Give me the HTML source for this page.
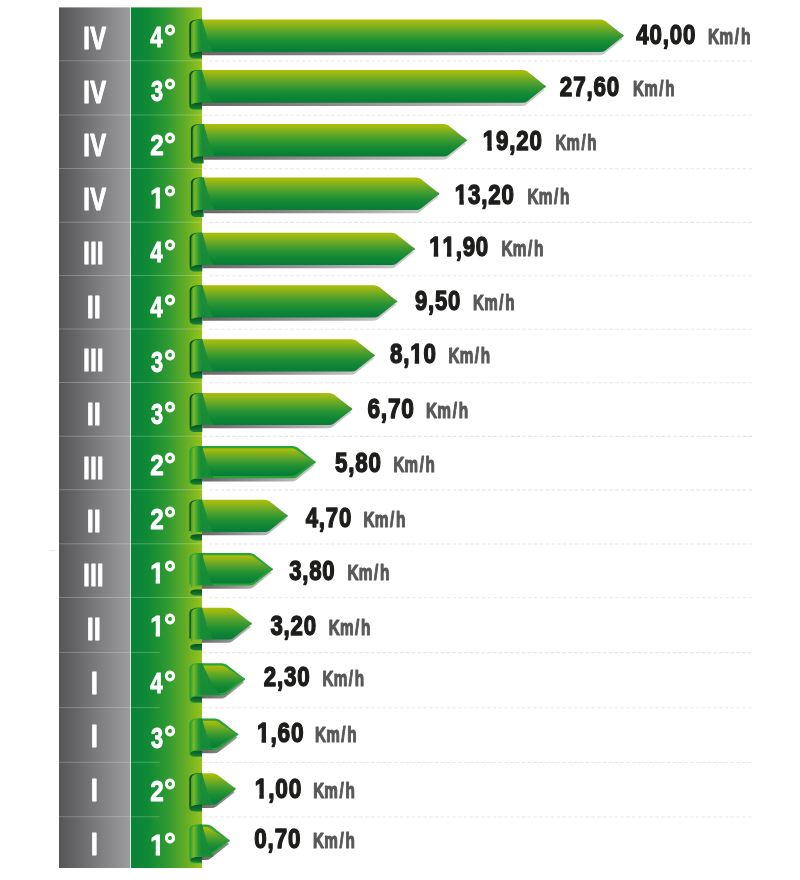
<!DOCTYPE html>
<html><head><meta charset="utf-8"><title>Km/h</title>
<style>
html,body{margin:0;padding:0;background:#fff;}
body{width:800px;height:880px;overflow:hidden;}
svg{display:block;}
text{font-family:"Liberation Sans",sans-serif;font-weight:bold;font-kerning:none;stroke-linejoin:round;vector-effect:non-scaling-stroke;}
.g{fill:#fff;stroke:#fff;}
.v{fill:#1d1d1b;stroke:#1d1d1b;}
.u{fill:#58585a;stroke:#58585a;}
</style></head><body>
<svg width="800" height="880" viewBox="0 0 800 880">
<defs>
<linearGradient id="gray" x1="0" y1="0" x2="1" y2="0"><stop offset="0" stop-color="#555558"/><stop offset="1" stop-color="#9d9d9f"/></linearGradient>
<linearGradient id="green" x1="0" y1="0" x2="1" y2="0"><stop offset="0" stop-color="#088437"/><stop offset="0.25" stop-color="#108a36"/><stop offset="0.5" stop-color="#2d9932"/><stop offset="0.75" stop-color="#60ab27"/><stop offset="1" stop-color="#97c21b"/></linearGradient>
<linearGradient id="greenU" gradientUnits="userSpaceOnUse" x1="131" y1="0" x2="202" y2="0"><stop offset="0" stop-color="#088437"/><stop offset="0.25" stop-color="#108a36"/><stop offset="0.5" stop-color="#2d9932"/><stop offset="0.75" stop-color="#60ab27"/><stop offset="1" stop-color="#97c21b"/></linearGradient>
<linearGradient id="bar" x1="0" y1="0" x2="0" y2="1"><stop offset="0" stop-color="#abbd08"/><stop offset="0.08" stop-color="#a0ba10"/><stop offset="0.3" stop-color="#68a826"/><stop offset="0.5" stop-color="#3a9a31"/><stop offset="0.65" stop-color="#1f8f34"/><stop offset="0.8" stop-color="#108636"/><stop offset="1" stop-color="#067d36"/></linearGradient>
<linearGradient id="curl" x1="0" y1="0" x2="1" y2="0"><stop offset="0" stop-color="#3d9a2b"/><stop offset="0.22" stop-color="#7ab827"/><stop offset="0.42" stop-color="#5aad2b"/><stop offset="0.7" stop-color="#249835"/><stop offset="1" stop-color="#14883a"/></linearGradient>
</defs>
<rect width="800" height="880" fill="#fff"/>
<rect x="59" y="7.4" width="71.3" height="860.6" fill="url(#gray)"/>
<rect x="131" y="7.4" width="71" height="860.6" fill="url(#green)"/>
<rect x="49.7" y="550" width="5.4" height="1.2" fill="#e6e6e6"/>

<linearGradient id="sh0" gradientUnits="userSpaceOnUse" x1="202" y1="0" x2="623.8" y2="0"><stop offset="0" stop-color="#6b6668"/><stop offset="0.5" stop-color="#979596"/><stop offset="1" stop-color="#d2ced0"/></linearGradient>
<path d="M202 50.0 L602.3 50.0 L620.4 37.050000000000004 Q624.4 38.95 620.4 40.85 L604.3 53.7 Q602.3 55.2 599.3 55.2 L202 55.2 Z" fill="url(#sh0)"/>
<path d="M202 19.5 L600.3 19.5 Q603.3 19.5 605.3 21.0 L621.4 33.85 Q626.1999999999999 35.75 621.4 37.65 L605.3 50.5 Q603.3 52.0 600.3 52.0 L202 52.0 Z" fill="url(#bar)"/>
<path d="M202 19.5 C204.99 28.5 207.52 43.0 213.5 52.0 L202 52.0 Z" fill="#178c37" fill-opacity="0.9"/>
<path d="M202 19.5 L199.3 19.5 C193.3 19.5 189.3 21.0 189.3 25.0 L189.3 54.9 Q189.3 58.5 196.3 58.5 L202 58.5 Z" fill="url(#dk0)"/>
<linearGradient id="dk0" gradientUnits="userSpaceOnUse" x1="0" y1="51.5" x2="0" y2="58.5"><stop offset="0" stop-color="#07501f"/><stop offset="1" stop-color="#178636"/></linearGradient>
<path d="M202 19.5 L199.8 19.5 C194.8 19.7 191.0 21.5 191.0 26.0 L190.9 53.7 Q194.3 51.7 202 51.7 Z" fill="url(#curl)"/>
<text class="g" transform="translate(83.26,48.90) scale(0.7816,1)" font-size="30.45" stroke-width="0.9" letter-spacing="0.6">IV</text>
<text class="g" transform="translate(150.31,47.35) scale(0.7401,1)" font-size="30.38" stroke-width="0.8">4</text>
<text class="g" transform="translate(164.08,47.35) scale(0.9307,1)" font-size="32.27" stroke-width="0.8">°</text>
<text class="v" transform="translate(636.32,43.95) scale(0.8064,1)" font-size="27.62" stroke-width="1.3" letter-spacing="1.0">40,00</text>
<text class="u" transform="translate(707.96,43.90) scale(0.7348,1)" font-size="21.22" stroke-width="1.0" dx="0 0.2 2.2 2.4">Km/h</text>
<line x1="59" y1="60.8" x2="202" y2="60.8" stroke="#fff" stroke-opacity="0.24" stroke-width="1"/>
<line x1="209.2" y1="61.0" x2="752.6" y2="61.0" stroke="#e7e7e7" stroke-width="1.1" stroke-dasharray="3.5 2.3"/>
<linearGradient id="sh1" gradientUnits="userSpaceOnUse" x1="202" y1="0" x2="546" y2="0"><stop offset="0" stop-color="#6b6668"/><stop offset="0.5" stop-color="#979596"/><stop offset="1" stop-color="#d2ced0"/></linearGradient>
<path d="M202 100.8 L524.5 100.8 L542.6 87.7 Q546.6 89.60000000000001 542.6 91.50000000000001 L526.5 104.5 Q524.5 106.0 521.5 106.0 L202 106.0 Z" fill="url(#sh1)"/>
<path d="M202 70.0 L522.5 70.0 Q525.5 70.0 527.5 71.5 L543.6 84.5 Q548.4 86.4 543.6 88.30000000000001 L527.5 101.3 Q525.5 102.8 522.5 102.8 L202 102.8 Z" fill="url(#bar)"/>
<path d="M202 70.0 C204.99 79.0 207.52 93.8 213.5 102.8 L202 102.8 Z" fill="#178c37" fill-opacity="0.9"/>
<path d="M202 70.0 L199.3 70.0 C193.3 70.0 189.3 71.5 189.3 75.5 L189.3 105.9 Q189.3 109.5 196.3 109.5 L202 109.5 Z" fill="url(#dk1)"/>
<linearGradient id="dk1" gradientUnits="userSpaceOnUse" x1="0" y1="102.5" x2="0" y2="109.5"><stop offset="0" stop-color="#07501f"/><stop offset="1" stop-color="#178636"/></linearGradient>
<path d="M202 70.0 L199.8 70.0 C194.8 70.2 191.0 72.0 191.0 76.5 L190.9 104.5 Q194.3 102.5 202 102.5 Z" fill="url(#curl)"/>
<text class="g" transform="translate(83.26,102.63) scale(0.7816,1)" font-size="30.45" stroke-width="0.9" letter-spacing="0.6">IV</text>
<text class="g" transform="translate(150.90,101.08) scale(0.7153,1)" font-size="30.38" stroke-width="0.8">3</text>
<text class="g" transform="translate(164.08,101.08) scale(0.9307,1)" font-size="32.27" stroke-width="0.8">°</text>
<text class="v" transform="translate(559.86,95.55) scale(0.8127,1)" font-size="27.62" stroke-width="1.3" letter-spacing="1.0">27,60</text>
<text class="u" transform="translate(633.08,95.50) scale(0.7149,1)" font-size="21.22" stroke-width="1.0" dx="0 0.2 2.2 2.4">Km/h</text>
<line x1="59" y1="115.0" x2="202" y2="115.0" stroke="#fff" stroke-opacity="0.24" stroke-width="1"/>
<line x1="203.4" y1="115.2" x2="752.6" y2="115.2" stroke="#e7e7e7" stroke-width="1.1" stroke-dasharray="3.5 2.3"/>
<linearGradient id="sh2" gradientUnits="userSpaceOnUse" x1="203.6" y1="0" x2="467" y2="0"><stop offset="0" stop-color="#6b6668"/><stop offset="0.5" stop-color="#979596"/><stop offset="1" stop-color="#d2ced0"/></linearGradient>
<path d="M203.6 154.5 L445.5 154.5 L463.6 141.54999999999998 Q467.6 143.45 463.6 145.35 L447.5 158.2 Q445.5 159.7 442.5 159.7 L203.6 159.7 Z" fill="url(#sh2)"/>
<path d="M203.6 124.0 L443.5 124.0 Q446.5 124.0 448.5 125.5 L464.6 138.35 Q469.4 140.25 464.6 142.15 L448.5 155.0 Q446.5 156.5 443.5 156.5 L203.6 156.5 Z" fill="url(#bar)"/>
<path d="M203.6 124.0 C206.59 133.0 209.12 147.5 215.1 156.5 L203.6 156.5 Z" fill="#178c37" fill-opacity="0.9"/>
<path d="M203.6 124.0 L200.9 124.0 C194.9 124.0 190.9 125.5 190.9 129.5 L190.9 159.9 Q190.9 163.5 197.9 163.5 L203.6 163.5 Z" fill="url(#dk2)"/>
<linearGradient id="dk2" gradientUnits="userSpaceOnUse" x1="0" y1="156.5" x2="0" y2="163.5"><stop offset="0" stop-color="#07501f"/><stop offset="1" stop-color="#178636"/></linearGradient>
<path d="M203.6 124.0 L201.4 124.0 C196.4 124.2 192.6 126.0 192.6 130.5 L192.5 158.2 Q195.9 156.2 203.6 156.2 Z" fill="url(#curl)"/>
<text class="g" transform="translate(83.26,156.36) scale(0.7816,1)" font-size="30.45" stroke-width="0.9" letter-spacing="0.6">IV</text>
<text class="g" transform="translate(150.15,154.61) scale(0.8007,1)" font-size="30.38" stroke-width="0.8">2</text>
<text class="g" transform="translate(164.08,154.61) scale(0.9307,1)" font-size="32.27" stroke-width="0.8">°</text>
<text class="v" transform="translate(482.85,149.95) scale(0.8074,1)" font-size="27.62" stroke-width="1.3" letter-spacing="1.0">19,20</text><rect x="482.40" y="145.48" width="4.95" height="6.42" fill="#fff"/><rect x="491.81" y="145.48" width="3.97" height="6.42" fill="#fff"/>
<text class="u" transform="translate(555.49,149.90) scale(0.7076,1)" font-size="21.22" stroke-width="1.0" dx="0 0.2 2.2 2.4">Km/h</text>
<line x1="59" y1="168.5" x2="202" y2="168.5" stroke="#fff" stroke-opacity="0.24" stroke-width="1"/>
<line x1="203.4" y1="168.7" x2="752.6" y2="168.7" stroke="#e7e7e7" stroke-width="1.1" stroke-dasharray="3.5 2.3"/>
<linearGradient id="sh3" gradientUnits="userSpaceOnUse" x1="203.6" y1="0" x2="439.4" y2="0"><stop offset="0" stop-color="#6b6668"/><stop offset="0.5" stop-color="#979596"/><stop offset="1" stop-color="#d2ced0"/></linearGradient>
<path d="M203.6 208.0 L417.9 208.0 L436.0 195.04999999999998 Q440.0 196.95 436.0 198.85 L419.9 211.7 Q417.9 213.2 414.9 213.2 L203.6 213.2 Z" fill="url(#sh3)"/>
<path d="M203.6 177.5 L415.9 177.5 Q418.9 177.5 420.9 179.0 L437.0 191.85 Q441.79999999999995 193.75 437.0 195.65 L420.9 208.5 Q418.9 210.0 415.9 210.0 L203.6 210.0 Z" fill="url(#bar)"/>
<path d="M203.6 177.5 C206.59 186.5 209.12 201.0 215.1 210.0 L203.6 210.0 Z" fill="#178c37" fill-opacity="0.9"/>
<path d="M203.6 177.5 L200.9 177.5 C194.9 177.5 190.9 179.0 190.9 183.0 L190.9 213.4 Q190.9 217.0 197.9 217.0 L203.6 217.0 Z" fill="url(#dk3)"/>
<linearGradient id="dk3" gradientUnits="userSpaceOnUse" x1="0" y1="210.0" x2="0" y2="217.0"><stop offset="0" stop-color="#07501f"/><stop offset="1" stop-color="#178636"/></linearGradient>
<path d="M203.6 177.5 L201.4 177.5 C196.4 177.7 192.6 179.5 192.6 184.0 L192.5 211.7 Q195.9 209.7 203.6 209.7 Z" fill="url(#curl)"/>
<text class="g" transform="translate(83.26,210.09) scale(0.7816,1)" font-size="30.45" stroke-width="0.9" letter-spacing="0.6">IV</text>
<text class="g" transform="translate(150.17,207.94) scale(0.8365,1)" font-size="30.38" stroke-width="0.8">1</text><rect x="150.17" y="203.44" width="5.48" height="6.20" fill="url(#greenU)"/><rect x="160.04" y="203.44" width="4.46" height="6.20" fill="url(#greenU)"/>
<text class="g" transform="translate(164.08,207.94) scale(0.9307,1)" font-size="32.27" stroke-width="0.8">°</text>
<text class="v" transform="translate(454.85,203.55) scale(0.8074,1)" font-size="27.62" stroke-width="1.3" letter-spacing="1.0">13,20</text><rect x="454.40" y="199.08" width="4.95" height="6.42" fill="#fff"/><rect x="463.81" y="199.08" width="3.97" height="6.42" fill="#fff"/>
<text class="u" transform="translate(527.47,203.50) scale(0.7258,1)" font-size="21.22" stroke-width="1.0" dx="0 0.2 2.2 2.4">Km/h</text>
<line x1="59" y1="222.2" x2="202" y2="222.2" stroke="#fff" stroke-opacity="0.24" stroke-width="1"/>
<line x1="209.2" y1="222.39999999999998" x2="752.6" y2="222.39999999999998" stroke="#e7e7e7" stroke-width="1.1" stroke-dasharray="3.5 2.3"/>
<linearGradient id="sh4" gradientUnits="userSpaceOnUse" x1="202.3" y1="0" x2="415" y2="0"><stop offset="0" stop-color="#6b6668"/><stop offset="0.5" stop-color="#979596"/><stop offset="1" stop-color="#d2ced0"/></linearGradient>
<path d="M202.3 263.0 L393.5 263.0 L411.6 250.2 Q415.6 252.1 411.6 254.0 L395.5 266.7 Q393.5 268.2 390.5 268.2 L202.3 268.2 Z" fill="url(#sh4)"/>
<path d="M202.3 232.8 L391.5 232.8 Q394.5 232.8 396.5 234.3 L412.6 247.0 Q417.4 248.9 412.6 250.8 L396.5 263.5 Q394.5 265.0 391.5 265.0 L202.3 265.0 Z" fill="url(#bar)"/>
<path d="M202.3 232.8 C205.29000000000002 241.8 207.82000000000002 256.0 213.8 265.0 L202.3 265.0 Z" fill="#178c37" fill-opacity="0.9"/>
<path d="M202.3 232.8 L199.60000000000002 232.8 C193.60000000000002 232.8 189.60000000000002 234.3 189.60000000000002 238.3 L189.60000000000002 267.9 Q189.60000000000002 271.5 196.60000000000002 271.5 L202.3 271.5 Z" fill="url(#dk4)"/>
<linearGradient id="dk4" gradientUnits="userSpaceOnUse" x1="0" y1="264.5" x2="0" y2="271.5"><stop offset="0" stop-color="#07501f"/><stop offset="1" stop-color="#178636"/></linearGradient>
<path d="M202.3 232.8 L200.10000000000002 232.8 C195.10000000000002 233.0 191.3 234.8 191.3 239.3 L191.20000000000002 266.7 Q194.60000000000002 264.7 202.3 264.7 Z" fill="url(#curl)"/>
<text class="g" transform="translate(83.29,263.82) scale(0.7639,1)" font-size="30.45" stroke-width="0.9" letter-spacing="0.6">III</text>
<text class="g" transform="translate(150.31,262.37) scale(0.7401,1)" font-size="30.38" stroke-width="0.8">4</text>
<text class="g" transform="translate(164.08,262.37) scale(0.9307,1)" font-size="32.27" stroke-width="0.8">°</text>
<text class="v" transform="translate(429.25,256.35) scale(0.8074,1)" font-size="27.62" stroke-width="1.3" letter-spacing="1.0">11,90</text><rect x="428.80" y="251.88" width="4.95" height="6.42" fill="#fff"/><rect x="438.21" y="251.88" width="3.97" height="6.42" fill="#fff"/><rect x="442.01" y="251.88" width="4.95" height="6.42" fill="#fff"/><rect x="451.42" y="251.88" width="3.97" height="6.42" fill="#fff"/>
<text class="u" transform="translate(501.47,256.30) scale(0.7258,1)" font-size="21.22" stroke-width="1.0" dx="0 0.2 2.2 2.4">Km/h</text>
<line x1="59" y1="275.5" x2="202" y2="275.5" stroke="#fff" stroke-opacity="0.24" stroke-width="1"/>
<line x1="209.2" y1="275.7" x2="752.6" y2="275.7" stroke="#e7e7e7" stroke-width="1.1" stroke-dasharray="3.5 2.3"/>
<linearGradient id="sh5" gradientUnits="userSpaceOnUse" x1="202.3" y1="0" x2="397.4" y2="0"><stop offset="0" stop-color="#6b6668"/><stop offset="0.5" stop-color="#979596"/><stop offset="1" stop-color="#d2ced0"/></linearGradient>
<path d="M202.3 315.5 L375.9 315.5 L394.0 302.65000000000003 Q398.0 304.55 394.0 306.45 L377.9 319.2 Q375.9 320.7 372.9 320.7 L202.3 320.7 Z" fill="url(#sh5)"/>
<path d="M202.3 285.2 L373.9 285.2 Q376.9 285.2 378.9 286.7 L395.0 299.45000000000005 Q399.79999999999995 301.35 395.0 303.25 L378.9 316.0 Q376.9 317.5 373.9 317.5 L202.3 317.5 Z" fill="url(#bar)"/>
<path d="M202.3 285.2 C205.29000000000002 294.2 207.82000000000002 308.5 213.8 317.5 L202.3 317.5 Z" fill="#178c37" fill-opacity="0.9"/>
<path d="M202.3 285.2 L199.60000000000002 285.2 C193.60000000000002 285.2 189.60000000000002 286.7 189.60000000000002 290.7 L189.60000000000002 320.9 Q189.60000000000002 324.5 196.60000000000002 324.5 L202.3 324.5 Z" fill="url(#dk5)"/>
<linearGradient id="dk5" gradientUnits="userSpaceOnUse" x1="0" y1="317.5" x2="0" y2="324.5"><stop offset="0" stop-color="#07501f"/><stop offset="1" stop-color="#178636"/></linearGradient>
<path d="M202.3 285.2 L200.10000000000002 285.2 C195.10000000000002 285.4 191.3 287.2 191.3 291.7 L191.20000000000002 319.2 Q194.60000000000002 317.2 202.3 317.2 Z" fill="url(#curl)"/>
<text class="g" transform="translate(86.94,317.55) scale(0.7881,1)" font-size="30.45" stroke-width="0.9" letter-spacing="0.6">II</text>
<text class="g" transform="translate(150.31,317.30) scale(0.7401,1)" font-size="30.38" stroke-width="0.8">4</text>
<text class="g" transform="translate(164.08,317.30) scale(0.9307,1)" font-size="32.27" stroke-width="0.8">°</text>
<text class="v" transform="translate(414.88,309.55) scale(0.7997,1)" font-size="27.62" stroke-width="1.3" letter-spacing="1.0">9,50</text>
<text class="u" transform="translate(473.08,309.50) scale(0.7149,1)" font-size="21.22" stroke-width="1.0" dx="0 0.2 2.2 2.4">Km/h</text>
<line x1="59" y1="329.0" x2="202" y2="329.0" stroke="#fff" stroke-opacity="0.24" stroke-width="1"/>
<line x1="209.2" y1="329.2" x2="752.6" y2="329.2" stroke="#e7e7e7" stroke-width="1.1" stroke-dasharray="3.5 2.3"/>
<linearGradient id="sh6" gradientUnits="userSpaceOnUse" x1="202.3" y1="0" x2="375" y2="0"><stop offset="0" stop-color="#6b6668"/><stop offset="0.5" stop-color="#979596"/><stop offset="1" stop-color="#d2ced0"/></linearGradient>
<path d="M202.3 369.5 L353.5 369.5 L371.6 356.65000000000003 Q375.6 358.55 371.6 360.45 L355.5 373.2 Q353.5 374.7 350.5 374.7 L202.3 374.7 Z" fill="url(#sh6)"/>
<path d="M202.3 339.2 L351.5 339.2 Q354.5 339.2 356.5 340.7 L372.6 353.45000000000005 Q377.4 355.35 372.6 357.25 L356.5 370.0 Q354.5 371.5 351.5 371.5 L202.3 371.5 Z" fill="url(#bar)"/>
<path d="M202.3 339.2 C205.29000000000002 348.2 207.82000000000002 362.5 213.8 371.5 L202.3 371.5 Z" fill="#178c37" fill-opacity="0.9"/>
<path d="M202.3 339.2 L199.60000000000002 339.2 C193.60000000000002 339.2 189.60000000000002 340.7 189.60000000000002 344.7 L189.60000000000002 374.9 Q189.60000000000002 378.5 196.60000000000002 378.5 L202.3 378.5 Z" fill="url(#dk6)"/>
<linearGradient id="dk6" gradientUnits="userSpaceOnUse" x1="0" y1="371.5" x2="0" y2="378.5"><stop offset="0" stop-color="#07501f"/><stop offset="1" stop-color="#178636"/></linearGradient>
<path d="M202.3 339.2 L200.10000000000002 339.2 C195.10000000000002 339.4 191.3 341.2 191.3 345.7 L191.20000000000002 373.2 Q194.60000000000002 371.2 202.3 371.2 Z" fill="url(#curl)"/>
<text class="g" transform="translate(83.29,371.28) scale(0.7639,1)" font-size="30.45" stroke-width="0.9" letter-spacing="0.6">III</text>
<text class="g" transform="translate(150.90,371.83) scale(0.7153,1)" font-size="30.38" stroke-width="0.8">3</text>
<text class="g" transform="translate(164.08,371.83) scale(0.9307,1)" font-size="32.27" stroke-width="0.8">°</text>
<text class="v" transform="translate(389.93,362.95) scale(0.8095,1)" font-size="27.62" stroke-width="1.3" letter-spacing="1.0">8,10</text><rect x="409.76" y="358.48" width="4.96" height="6.42" fill="#fff"/><rect x="419.18" y="358.48" width="3.98" height="6.42" fill="#fff"/>
<text class="u" transform="translate(448.48,362.90) scale(0.7185,1)" font-size="21.22" stroke-width="1.0" dx="0 0.2 2.2 2.4">Km/h</text>
<line x1="59" y1="382.5" x2="202" y2="382.5" stroke="#fff" stroke-opacity="0.24" stroke-width="1"/>
<line x1="209.2" y1="382.7" x2="752.6" y2="382.7" stroke="#e7e7e7" stroke-width="1.1" stroke-dasharray="3.5 2.3"/>
<linearGradient id="sh7" gradientUnits="userSpaceOnUse" x1="202.3" y1="0" x2="352.4" y2="0"><stop offset="0" stop-color="#6b6668"/><stop offset="0.5" stop-color="#979596"/><stop offset="1" stop-color="#d2ced0"/></linearGradient>
<path d="M202.3 423.0 L330.9 423.0 L349.0 410.3 Q353.0 412.2 349.0 414.09999999999997 L332.9 426.7 Q330.9 428.2 327.9 428.2 L202.3 428.2 Z" fill="url(#sh7)"/>
<path d="M202.3 393.0 L328.9 393.0 Q331.9 393.0 333.9 394.5 L350.0 407.1 Q354.79999999999995 409.0 350.0 410.9 L333.9 423.5 Q331.9 425.0 328.9 425.0 L202.3 425.0 Z" fill="url(#bar)"/>
<path d="M202.3 393.0 C205.29000000000002 402.0 207.82000000000002 416.0 213.8 425.0 L202.3 425.0 Z" fill="#178c37" fill-opacity="0.9"/>
<path d="M202.3 393.0 L199.60000000000002 393.0 C193.60000000000002 393.0 189.60000000000002 394.5 189.60000000000002 398.5 L189.60000000000002 428.4 Q189.60000000000002 432.0 196.60000000000002 432.0 L202.3 432.0 Z" fill="url(#dk7)"/>
<linearGradient id="dk7" gradientUnits="userSpaceOnUse" x1="0" y1="425.0" x2="0" y2="432.0"><stop offset="0" stop-color="#07501f"/><stop offset="1" stop-color="#178636"/></linearGradient>
<path d="M202.3 393.0 L200.10000000000002 393.0 C195.10000000000002 393.2 191.3 395.0 191.3 399.5 L191.20000000000002 426.7 Q194.60000000000002 424.7 202.3 424.7 Z" fill="url(#curl)"/>
<text class="g" transform="translate(86.94,425.01) scale(0.7881,1)" font-size="30.45" stroke-width="0.9" letter-spacing="0.6">II</text>
<text class="g" transform="translate(150.90,423.86) scale(0.7153,1)" font-size="30.38" stroke-width="0.8">3</text>
<text class="g" transform="translate(164.08,423.86) scale(0.9307,1)" font-size="32.27" stroke-width="0.8">°</text>
<text class="v" transform="translate(367.41,417.55) scale(0.8189,1)" font-size="27.62" stroke-width="1.3" letter-spacing="1.0">6,70</text>
<text class="u" transform="translate(426.07,417.50) scale(0.7258,1)" font-size="21.22" stroke-width="1.0" dx="0 0.2 2.2 2.4">Km/h</text>
<line x1="59" y1="436.2" x2="202" y2="436.2" stroke="#fff" stroke-opacity="0.24" stroke-width="1"/>
<line x1="203.4" y1="436.4" x2="752.6" y2="436.4" stroke="#e7e7e7" stroke-width="1.1" stroke-dasharray="3.5 2.3"/>
<linearGradient id="sh8" gradientUnits="userSpaceOnUse" x1="202" y1="0" x2="316" y2="0"><stop offset="0" stop-color="#6b6668"/><stop offset="0.5" stop-color="#979596"/><stop offset="1" stop-color="#d2ced0"/></linearGradient>
<path d="M202 476.2 L294.5 476.2 L312.6 463.40000000000003 Q316.6 465.3 312.6 467.2 L296.5 479.9 Q294.5 481.4 291.5 481.4 L202 481.4 Z" fill="url(#sh8)"/>
<path d="M202 446.0 L292.5 446.0 Q295.5 446.0 297.5 447.5 L313.6 460.20000000000005 Q318.4 462.1 313.6 464.0 L297.5 476.7 Q295.5 478.2 292.5 478.2 L202 478.2 Z" fill="#27a338"/>
<path d="M202 448.3 L291.3 448.3 Q294.3 448.3 296.3 449.7 L311.8 460.70000000000005 Q313.8 462.1 311.8 463.5 L296.3 474.6 Q294.3 476.0 291.3 476.0 L202 476.0 Z" fill="url(#bar)"/>
<path d="M202 446.0 C204.99 455.0 207.52 469.2 213.5 478.2 L202 478.2 Z" fill="#178c37" fill-opacity="0.9"/>
<path d="M202 446.0 L199.3 446.0 C193.3 446.0 189.3 447.5 189.3 451.5 L189.3 481.4 Q189.3 485.0 196.3 485.0 L202 485.0 Z" fill="#27a338"/>
<path d="M202 478.8 L196.8 478.8 Q190.5 478.8 190.5 481.4 Q190.5 484.1 196.8 484.1 L202 484.1 Z" fill="url(#dk8)"/>
<linearGradient id="dk8" gradientUnits="userSpaceOnUse" x1="0" y1="478.0" x2="0" y2="485.0"><stop offset="0" stop-color="#07501f"/><stop offset="1" stop-color="#178636"/></linearGradient>
<path d="M202 446.0 L199.8 446.0 C194.8 446.2 191.0 448.0 191.0 452.5 L190.9 479.9 Q194.3 477.9 202 477.9 Z" fill="url(#curl)"/>
<text class="g" transform="translate(83.29,478.74) scale(0.7639,1)" font-size="30.45" stroke-width="0.9" letter-spacing="0.6">III</text>
<text class="g" transform="translate(150.15,475.09) scale(0.8007,1)" font-size="30.38" stroke-width="0.8">2</text>
<text class="g" transform="translate(164.08,475.09) scale(0.9307,1)" font-size="32.27" stroke-width="0.8">°</text>
<text class="v" transform="translate(334.96,471.95) scale(0.8091,1)" font-size="27.62" stroke-width="1.3" letter-spacing="1.0">5,80</text>
<text class="u" transform="translate(393.48,471.90) scale(0.7149,1)" font-size="21.22" stroke-width="1.0" dx="0 0.2 2.2 2.4">Km/h</text>
<line x1="59" y1="489.7" x2="202" y2="489.7" stroke="#fff" stroke-opacity="0.24" stroke-width="1"/>
<line x1="209.2" y1="489.9" x2="752.6" y2="489.9" stroke="#e7e7e7" stroke-width="1.1" stroke-dasharray="3.5 2.3"/>
<linearGradient id="sh9" gradientUnits="userSpaceOnUse" x1="202" y1="0" x2="288" y2="0"><stop offset="0" stop-color="#6b6668"/><stop offset="0.5" stop-color="#979596"/><stop offset="1" stop-color="#d2ced0"/></linearGradient>
<path d="M202 530.0 L266.5 530.0 L284.6 517.1500000000001 Q288.6 519.0500000000001 284.6 520.95 L268.5 533.7 Q266.5 535.2 263.5 535.2 L202 535.2 Z" fill="url(#sh9)"/>
<path d="M202 499.7 L264.5 499.7 Q267.5 499.7 269.5 501.2 L285.6 513.95 Q290.4 515.85 285.6 517.75 L269.5 530.5 Q267.5 532.0 264.5 532.0 L202 532.0 Z" fill="url(#bar)"/>
<path d="M202 499.7 C204.99 508.7 207.52 523.0 213.5 532.0 L202 532.0 Z" fill="#178c37" fill-opacity="0.9"/>
<path d="M202 499.7 L199.3 499.7 C193.3 499.7 189.3 501.2 189.3 505.2 L189.3 533.5 L202 532.0 Z" fill="#0c5f28"/>
<path d="M202 531.0 L189.3 531.0 L189.3 537.4 Q189.3 541.0 196.3 541.0 L202 541.0 Z" fill="#7fb924"/>
<path d="M202 534.2 L196.8 534.2 Q190.20000000000002 534.2 190.20000000000002 537.3 Q190.20000000000002 540.4 196.8 540.4 L202 540.4 Z" fill="url(#dk9)"/>
<linearGradient id="dk9" gradientUnits="userSpaceOnUse" x1="0" y1="534.0" x2="0" y2="541.0"><stop offset="0" stop-color="#07501f"/><stop offset="1" stop-color="#178636"/></linearGradient>
<path d="M202 499.7 L199.8 499.7 C194.8 499.9 191.0 501.7 191.0 506.2 L190.9 533.7 Q194.3 531.7 202 531.7 Z" fill="url(#curl)"/>
<text class="g" transform="translate(86.94,532.47) scale(0.7881,1)" font-size="30.45" stroke-width="0.9" letter-spacing="0.6">II</text>
<text class="g" transform="translate(150.15,528.62) scale(0.8007,1)" font-size="30.38" stroke-width="0.8">2</text>
<text class="g" transform="translate(164.08,528.62) scale(0.9307,1)" font-size="32.27" stroke-width="0.8">°</text>
<text class="v" transform="translate(305.72,526.95) scale(0.8026,1)" font-size="27.62" stroke-width="1.3" letter-spacing="1.0">4,70</text>
<text class="u" transform="translate(363.47,526.90) scale(0.7258,1)" font-size="21.22" stroke-width="1.0" dx="0 0.2 2.2 2.4">Km/h</text>
<line x1="59" y1="543.75" x2="202" y2="543.75" stroke="#fff" stroke-opacity="0.24" stroke-width="1"/>
<line x1="209.2" y1="543.95" x2="752.6" y2="543.95" stroke="#e7e7e7" stroke-width="1.1" stroke-dasharray="3.5 2.3"/>
<linearGradient id="sh10" gradientUnits="userSpaceOnUse" x1="202" y1="0" x2="273" y2="0"><stop offset="0" stop-color="#6b6668"/><stop offset="0.5" stop-color="#979596"/><stop offset="1" stop-color="#d2ced0"/></linearGradient>
<path d="M202 583.6 L251.5 583.6 L269.6 570.5500000000001 Q273.6 572.45 269.6 574.35 L253.5 587.3000000000001 Q251.5 588.8000000000001 248.5 588.8000000000001 L202 588.8000000000001 Z" fill="url(#sh10)"/>
<path d="M202 552.9 L249.5 552.9 Q252.5 552.9 254.5 554.4 L270.6 567.35 Q275.4 569.25 270.6 571.15 L254.5 584.1 Q252.5 585.6 249.5 585.6 L202 585.6 Z" fill="#27a338"/>
<path d="M202 555.1999999999999 L248.3 555.1999999999999 Q251.3 555.1999999999999 253.3 556.5999999999999 L268.8 567.85 Q270.8 569.25 268.8 570.65 L253.3 582.0 Q251.3 583.4 248.3 583.4 L202 583.4 Z" fill="url(#bar)"/>
<path d="M202 552.9 C204.99 561.9 207.52 576.6 213.5 585.6 L202 585.6 Z" fill="#178c37" fill-opacity="0.9"/>
<path d="M202 552.9 L199.3 552.9 C193.3 552.9 189.3 554.4 189.3 558.4 L189.3 587.1 L202 585.6 Z" fill="#27a338"/>
<path d="M202 584.6 L189.3 584.6 L189.3 592.6 Q189.3 596.2 196.3 596.2 L202 596.2 Z" fill="#7fb924"/>
<path d="M202 589.4000000000001 L196.8 589.4000000000001 Q190.20000000000002 589.4000000000001 190.20000000000002 592.5 Q190.20000000000002 595.6 196.8 595.6 L202 595.6 Z" fill="url(#dk10)"/>
<linearGradient id="dk10" gradientUnits="userSpaceOnUse" x1="0" y1="589.2" x2="0" y2="596.2"><stop offset="0" stop-color="#07501f"/><stop offset="1" stop-color="#178636"/></linearGradient>
<path d="M202 552.9 L199.8 552.9 C194.8 553.1 191.0 554.9 191.0 559.4 L190.9 587.3000000000001 Q194.3 585.3000000000001 202 585.3000000000001 Z" fill="url(#curl)"/>
<text class="g" transform="translate(83.29,586.20) scale(0.7639,1)" font-size="30.45" stroke-width="0.9" letter-spacing="0.6">III</text>
<text class="g" transform="translate(150.17,582.55) scale(0.8365,1)" font-size="30.38" stroke-width="0.8">1</text><rect x="150.17" y="578.05" width="5.48" height="6.20" fill="url(#greenU)"/><rect x="160.04" y="578.05" width="4.46" height="6.20" fill="url(#greenU)"/>
<text class="g" transform="translate(164.08,582.55) scale(0.9307,1)" font-size="32.27" stroke-width="0.8">°</text>
<text class="v" transform="translate(289.14,579.95) scale(0.8022,1)" font-size="27.62" stroke-width="1.3" letter-spacing="1.0">3,80</text>
<text class="u" transform="translate(347.47,579.90) scale(0.7258,1)" font-size="21.22" stroke-width="1.0" dx="0 0.2 2.2 2.4">Km/h</text>
<line x1="59" y1="597.5" x2="202" y2="597.5" stroke="#fff" stroke-opacity="0.24" stroke-width="1"/>
<line x1="209.2" y1="597.7" x2="752.6" y2="597.7" stroke="#e7e7e7" stroke-width="1.1" stroke-dasharray="3.5 2.3"/>
<linearGradient id="sh11" gradientUnits="userSpaceOnUse" x1="202" y1="0" x2="262" y2="0"><stop offset="0" stop-color="#6b6668"/><stop offset="0.5" stop-color="#979596"/><stop offset="1" stop-color="#d2ced0"/></linearGradient>
<path d="M202 637.6 L230.5 637.6 L248.6 624.975 Q252.6 626.875 248.6 628.775 L232.5 641.3000000000001 Q230.5 642.8000000000001 227.5 642.8000000000001 L202 642.8000000000001 Z" fill="url(#sh11)"/>
<path d="M202 607.75 L228.5 607.75 Q231.5 607.75 233.5 609.25 L249.6 621.775 Q254.4 623.675 249.6 625.5749999999999 L233.5 638.1 Q231.5 639.6 228.5 639.6 L202 639.6 Z" fill="url(#bar)"/>
<path d="M202 607.75 C204.99 616.75 207.52 630.6 213.5 639.6 L202 639.6 Z" fill="#178c37" fill-opacity="0.9"/>
<path d="M202 607.75 L199.3 607.75 C193.3 607.75 189.3 609.25 189.3 613.25 L189.3 641.1 L202 639.6 Z" fill="#0c5f28"/>
<path d="M202 638.6 L189.3 638.6 L189.3 647.3 Q189.3 650.9 196.3 650.9 L202 650.9 Z" fill="#7fb924"/>
<path d="M202 644.1 L196.8 644.1 Q190.20000000000002 644.1 190.20000000000002 647.1999999999999 Q190.20000000000002 650.3 196.8 650.3 L202 650.3 Z" fill="url(#dk11)"/>
<linearGradient id="dk11" gradientUnits="userSpaceOnUse" x1="0" y1="643.9" x2="0" y2="650.9"><stop offset="0" stop-color="#07501f"/><stop offset="1" stop-color="#178636"/></linearGradient>
<path d="M202 607.75 L199.8 607.75 C194.8 607.95 191.0 609.75 191.0 614.25 L190.9 641.3000000000001 Q194.3 639.3000000000001 202 639.3000000000001 Z" fill="url(#curl)"/>
<text class="g" transform="translate(86.94,639.93) scale(0.7881,1)" font-size="30.45" stroke-width="0.9" letter-spacing="0.6">II</text>
<text class="g" transform="translate(150.17,635.98) scale(0.8365,1)" font-size="30.38" stroke-width="0.8">1</text><rect x="150.17" y="631.48" width="5.48" height="6.20" fill="url(#greenU)"/><rect x="160.04" y="631.48" width="4.46" height="6.20" fill="url(#greenU)"/>
<text class="g" transform="translate(164.08,635.98) scale(0.9307,1)" font-size="32.27" stroke-width="0.8">°</text>
<text class="v" transform="translate(270.39,634.55) scale(0.8040,1)" font-size="27.62" stroke-width="1.3" letter-spacing="1.0">3,20</text>
<text class="u" transform="translate(328.67,634.50) scale(0.7221,1)" font-size="21.22" stroke-width="1.0" dx="0 0.2 2.2 2.4">Km/h</text>
<line x1="59" y1="652.4" x2="159.5" y2="652.4" stroke="#fff" stroke-opacity="0.24" stroke-width="1"/>
<line x1="202.8" y1="652.6" x2="752.6" y2="652.6" stroke="#e7e7e7" stroke-width="1.1" stroke-dasharray="3.5 2.3"/>
<linearGradient id="sh12" gradientUnits="userSpaceOnUse" x1="202" y1="0" x2="262" y2="0"><stop offset="0" stop-color="#6b6668"/><stop offset="0.5" stop-color="#979596"/><stop offset="1" stop-color="#d2ced0"/></linearGradient>
<path d="M202 693.25 L223.75 693.25 L241.85 680.5500000000001 Q245.85 682.45 241.85 684.35 L225.75 696.95 Q223.75 698.45 220.75 698.45 L202 698.45 Z" fill="url(#sh12)"/>
<path d="M202 663.25 L221.75 663.25 Q224.75 663.25 226.75 664.75 L242.85 677.35 Q247.65 679.25 242.85 681.15 L226.75 693.75 Q224.75 695.25 221.75 695.25 L202 695.25 Z" fill="#27a338"/>
<path d="M202 665.55 L220.55 665.55 Q223.55 665.55 225.55 666.9499999999999 L241.05 677.85 Q243.05 679.25 241.05 680.65 L225.55 691.65 Q223.55 693.05 220.55 693.05 L202 693.05 Z" fill="url(#bar)"/>
<path d="M202 663.25 C206.94 672.25 211.12 686.25 221 695.25 L202 695.25 Z" fill="#178c37" fill-opacity="0.9"/>
<path d="M202 663.25 L199.3 663.25 C193.3 663.25 189.3 664.75 189.3 668.75 L189.3 699.4 Q189.3 703.0 196.3 703.0 L202 703.0 Z" fill="#27a338"/>
<path d="M202 696.8 L196.8 696.8 Q190.5 696.8 190.5 699.4 Q190.5 702.1 196.8 702.1 L202 702.1 Z" fill="url(#dk12)"/>
<linearGradient id="dk12" gradientUnits="userSpaceOnUse" x1="0" y1="696.0" x2="0" y2="703.0"><stop offset="0" stop-color="#07501f"/><stop offset="1" stop-color="#178636"/></linearGradient>
<path d="M202 663.25 L199.8 663.25 C194.8 663.45 191.0 665.25 191.0 669.75 L190.9 696.95 Q194.3 694.95 202 694.95 Z" fill="url(#curl)"/>
<text class="g" transform="translate(90.92,693.66) scale(0.7982,1)" font-size="30.45" stroke-width="0.9" letter-spacing="0.6">I</text>
<text class="g" transform="translate(150.31,693.31) scale(0.7401,1)" font-size="30.38" stroke-width="0.8">4</text>
<text class="g" transform="translate(164.08,693.31) scale(0.9307,1)" font-size="32.27" stroke-width="0.8">°</text>
<text class="v" transform="translate(263.87,686.45) scale(0.8089,1)" font-size="27.62" stroke-width="1.3" letter-spacing="1.0">2,30</text>
<text class="u" transform="translate(322.48,686.40) scale(0.7203,1)" font-size="21.22" stroke-width="1.0" dx="0 0.2 2.2 2.4">Km/h</text>
<line x1="59" y1="707.6" x2="159.5" y2="707.6" stroke="#fff" stroke-opacity="0.24" stroke-width="1"/>
<line x1="202.8" y1="707.8000000000001" x2="752.6" y2="707.8000000000001" stroke="#e7e7e7" stroke-width="1.1" stroke-dasharray="3.5 2.3"/>
<linearGradient id="sh13" gradientUnits="userSpaceOnUse" x1="202" y1="0" x2="262" y2="0"><stop offset="0" stop-color="#6b6668"/><stop offset="0.5" stop-color="#979596"/><stop offset="1" stop-color="#d2ced0"/></linearGradient>
<path d="M202 748.1 L216.9 748.1 L235.0 735.6 Q239.0 737.5 235.0 739.4 L218.9 751.8000000000001 Q216.9 753.3000000000001 213.9 753.3000000000001 L202 753.3000000000001 Z" fill="url(#sh13)"/>
<path d="M202 718.5 L214.9 718.5 Q217.9 718.5 219.9 720.0 L236.0 732.4 Q240.8 734.3 236.0 736.1999999999999 L219.9 748.6 Q217.9 750.1 214.9 750.1 L202 750.1 Z" fill="#27a338"/>
<path d="M202 720.8 L213.70000000000002 720.8 Q216.70000000000002 720.8 218.70000000000002 722.1999999999999 L234.20000000000002 732.9 Q236.20000000000002 734.3 234.20000000000002 735.6999999999999 L218.70000000000002 746.5 Q216.70000000000002 747.9 213.70000000000002 747.9 L202 747.9 Z" fill="url(#bar)"/>
<path d="M202 718.5 C204.99 727.5 207.52 741.1 213.5 750.1 L202 750.1 Z" fill="#178c37" fill-opacity="0.9"/>
<path d="M202 718.5 L199.3 718.5 C193.3 718.5 189.3 720.0 189.3 724.0 L189.3 753.4 Q189.3 757.0 196.3 757.0 L202 757.0 Z" fill="#27a338"/>
<path d="M202 750.8 L196.8 750.8 Q190.5 750.8 190.5 753.4 Q190.5 756.1 196.8 756.1 L202 756.1 Z" fill="url(#dk13)"/>
<linearGradient id="dk13" gradientUnits="userSpaceOnUse" x1="0" y1="750.0" x2="0" y2="757.0"><stop offset="0" stop-color="#07501f"/><stop offset="1" stop-color="#178636"/></linearGradient>
<path d="M202 718.5 L199.8 718.5 C194.8 718.7 191.0 720.5 191.0 725.0 L190.9 751.8000000000001 Q194.3 749.8000000000001 202 749.8000000000001 Z" fill="url(#curl)"/>
<text class="g" transform="translate(90.92,747.39) scale(0.7982,1)" font-size="30.45" stroke-width="0.9" letter-spacing="0.6">I</text>
<text class="g" transform="translate(150.90,747.84) scale(0.7153,1)" font-size="30.38" stroke-width="0.8">3</text>
<text class="g" transform="translate(164.08,747.84) scale(0.9307,1)" font-size="32.27" stroke-width="0.8">°</text>
<text class="v" transform="translate(256.97,742.20) scale(0.8196,1)" font-size="27.62" stroke-width="1.3" letter-spacing="1.0">1,60</text><rect x="256.55" y="737.73" width="5.01" height="6.42" fill="#fff"/><rect x="266.06" y="737.73" width="4.02" height="6.42" fill="#fff"/>
<text class="u" transform="translate(314.98,742.15) scale(0.7203,1)" font-size="21.22" stroke-width="1.0" dx="0 0.2 2.2 2.4">Km/h</text>
<line x1="59" y1="762.25" x2="159.5" y2="762.25" stroke="#fff" stroke-opacity="0.24" stroke-width="1"/>
<line x1="202.8" y1="762.45" x2="752.6" y2="762.45" stroke="#e7e7e7" stroke-width="1.1" stroke-dasharray="3.5 2.3"/>
<linearGradient id="sh14" gradientUnits="userSpaceOnUse" x1="202" y1="0" x2="262" y2="0"><stop offset="0" stop-color="#6b6668"/><stop offset="0.5" stop-color="#979596"/><stop offset="1" stop-color="#d2ced0"/></linearGradient>
<path d="M202 802.75 L214.4 802.75 L232.5 790.3000000000001 Q236.5 792.2 232.5 794.1 L216.4 806.45 Q214.4 807.95 211.4 807.95 L202 807.95 Z" fill="url(#sh14)"/>
<path d="M202 773.25 L212.4 773.25 Q215.4 773.25 217.4 774.75 L233.5 787.1 Q238.3 789.0 233.5 790.9 L217.4 803.25 Q215.4 804.75 212.4 804.75 L202 804.75 Z" fill="url(#bar)"/>
<path d="M202 773.25 C204.99 782.25 207.52 795.75 213.5 804.75 L202 804.75 Z" fill="#178c37" fill-opacity="0.9"/>
<path d="M202 773.25 L199.3 773.25 C193.3 773.25 189.3 774.75 189.3 778.75 L189.3 808.0 Q189.3 811.6 196.3 811.6 L202 811.6 Z" fill="url(#dk14)"/>
<linearGradient id="dk14" gradientUnits="userSpaceOnUse" x1="0" y1="804.6" x2="0" y2="811.6"><stop offset="0" stop-color="#07501f"/><stop offset="1" stop-color="#178636"/></linearGradient>
<path d="M202 773.25 L199.8 773.25 C194.8 773.45 191.0 775.25 191.0 779.75 L190.9 806.45 Q194.3 804.45 202 804.45 Z" fill="url(#curl)"/>
<text class="g" transform="translate(90.92,801.12) scale(0.7982,1)" font-size="30.45" stroke-width="0.9" letter-spacing="0.6">I</text>
<text class="g" transform="translate(150.15,800.92) scale(0.8007,1)" font-size="30.38" stroke-width="0.8">2</text>
<text class="g" transform="translate(164.08,800.92) scale(0.9307,1)" font-size="32.27" stroke-width="0.8">°</text>
<text class="v" transform="translate(254.72,797.85) scale(0.8205,1)" font-size="27.62" stroke-width="1.3" letter-spacing="1.0">1,00</text><rect x="254.30" y="793.38" width="5.01" height="6.42" fill="#fff"/><rect x="263.82" y="793.38" width="4.02" height="6.42" fill="#fff"/>
<text class="u" transform="translate(313.18,797.80) scale(0.7203,1)" font-size="21.22" stroke-width="1.0" dx="0 0.2 2.2 2.4">Km/h</text>
<line x1="59" y1="816.75" x2="159.5" y2="816.75" stroke="#fff" stroke-opacity="0.24" stroke-width="1"/>
<line x1="202.8" y1="816.95" x2="752.6" y2="816.95" stroke="#e7e7e7" stroke-width="1.1" stroke-dasharray="3.5 2.3"/>
<linearGradient id="sh15" gradientUnits="userSpaceOnUse" x1="202" y1="0" x2="262" y2="0"><stop offset="0" stop-color="#6b6668"/><stop offset="0.5" stop-color="#979596"/><stop offset="1" stop-color="#d2ced0"/></linearGradient>
<path d="M202 854.75 L208.5 854.75 L226.6 841.9250000000001 Q230.6 843.825 226.6 845.725 L210.5 858.45 Q208.5 859.95 205.5 859.95 L202 859.95 Z" fill="url(#sh15)"/>
<path d="M202 824.5 L206.5 824.5 Q209.5 824.5 211.5 826.0 L227.6 838.725 Q232.4 840.625 227.6 842.525 L211.5 855.25 Q209.5 856.75 206.5 856.75 L202 856.75 Z" fill="#27a338"/>
<path d="M202 826.8 L205.3 826.8 Q208.3 826.8 210.3 828.1999999999999 L225.8 839.225 Q227.8 840.625 225.8 842.025 L210.3 853.15 Q208.3 854.55 205.3 854.55 L202 854.55 Z" fill="url(#bar)"/>
<path d="M202 824.5 C204.99 833.5 207.52 847.75 213.5 856.75 L202 856.75 Z" fill="#178c37" fill-opacity="0.9"/>
<path d="M202 824.5 L199.3 824.5 C193.3 824.5 189.3 826.0 189.3 830.0 L189.3 859.65 Q189.3 863.25 196.3 863.25 L202 863.25 Z" fill="#27a338"/>
<path d="M202 857.05 L196.8 857.05 Q190.5 857.05 190.5 859.65 Q190.5 862.35 196.8 862.35 L202 862.35 Z" fill="url(#dk15)"/>
<linearGradient id="dk15" gradientUnits="userSpaceOnUse" x1="0" y1="856.25" x2="0" y2="863.25"><stop offset="0" stop-color="#07501f"/><stop offset="1" stop-color="#178636"/></linearGradient>
<path d="M202 824.5 L199.8 824.5 C194.8 824.7 191.0 826.5 191.0 831.0 L190.9 858.45 Q194.3 856.45 202 856.45 Z" fill="url(#curl)"/>
<text class="g" transform="translate(90.92,854.85) scale(0.7982,1)" font-size="30.45" stroke-width="0.9" letter-spacing="0.6">I</text>
<text class="g" transform="translate(150.17,854.90) scale(0.8365,1)" font-size="30.38" stroke-width="0.8">1</text><rect x="150.17" y="850.40" width="5.48" height="6.20" fill="url(#greenU)"/><rect x="160.04" y="850.40" width="4.46" height="6.20" fill="url(#greenU)"/>
<text class="g" transform="translate(164.08,854.90) scale(0.9307,1)" font-size="32.27" stroke-width="0.8">°</text>
<text class="v" transform="translate(254.35,848.45) scale(0.8109,1)" font-size="27.62" stroke-width="1.3" letter-spacing="1.0">0,70</text>
<text class="u" transform="translate(313.08,848.40) scale(0.7203,1)" font-size="21.22" stroke-width="1.0" dx="0 0.2 2.2 2.4">Km/h</text>
</svg></body></html>
